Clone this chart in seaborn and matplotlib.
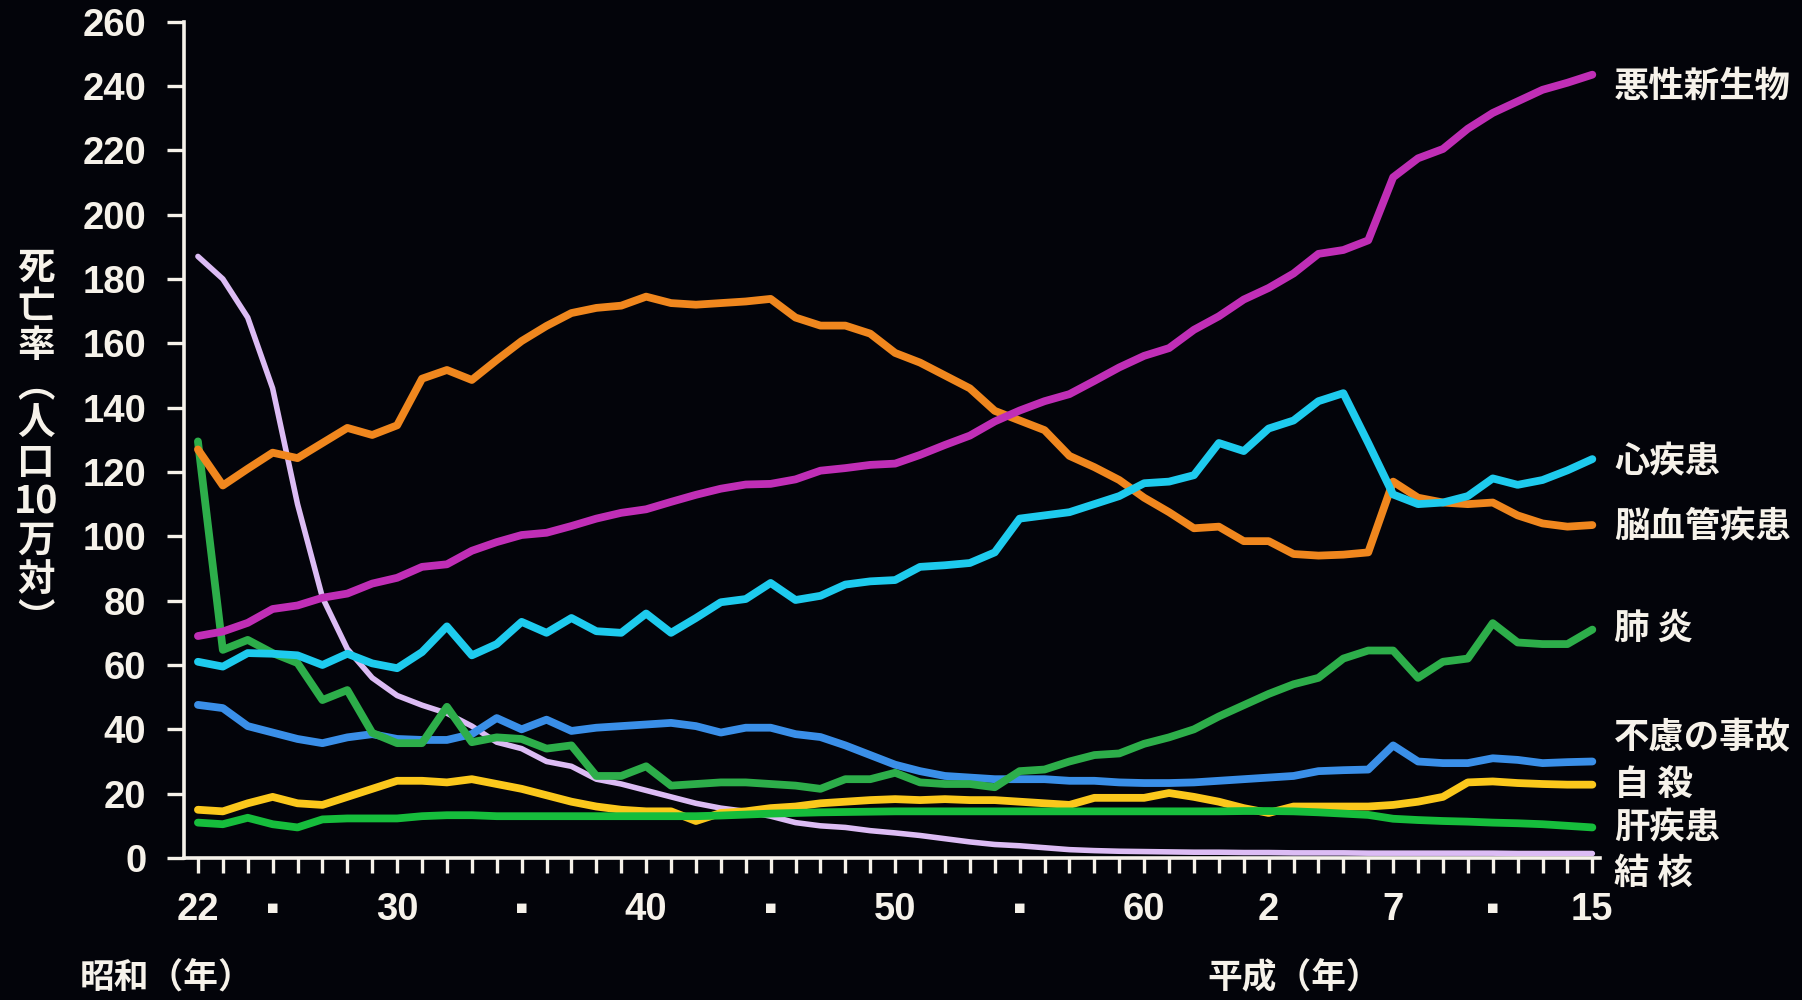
import numpy as np
import pandas as pd
import matplotlib
matplotlib.use("Agg")
import matplotlib.pyplot as plt
import seaborn as sns

# 年次 (昭和22年=1947 ～ 平成15年=2003)
years = list(range(1947, 2004))

# 死因別 死亡率 (人口10万対) - 図から読み取り
cancer = [69.0, 70.4, 73.1, 77.4, 78.5, 80.9, 82.2, 85.3, 87.1, 90.5,
          91.3, 95.5, 98.2, 100.4, 101.1, 103.2, 105.5, 107.3, 108.4, 110.7,
          112.9, 114.8, 116.1, 116.3, 117.7, 120.4, 121.2, 122.2, 122.6, 125.3,
          128.4, 131.3, 135.7, 139.1, 142.0, 144.2, 148.3, 152.5, 156.1, 158.5,
          164.2, 168.4, 173.6, 177.2, 181.7, 187.8, 189.0, 192.0, 211.6, 217.5,
          220.4, 226.7, 231.6, 235.2, 238.8, 241.0, 243.5]
cerebro = [127.0, 115.8, 121.0, 126.0, 124.3, 129.0, 133.7, 131.5, 134.5, 149.0,
           151.7, 148.6, 154.8, 160.7, 165.4, 169.4, 171.0, 171.7, 174.5, 172.5,
           172.0, 172.5, 173.0, 173.8, 168.0, 165.5, 165.5, 163.0, 157.0, 154.0,
           150.0, 146.0, 139.0, 136.0, 133.0, 125.0, 121.5, 117.5, 112.0, 107.5,
           102.5, 103.0, 98.5, 98.5, 94.5, 94.0, 94.3, 95.0, 117.0, 112.0,
           110.5, 110.0, 110.5, 106.5, 104.0, 103.0, 103.5]
heart = [61.0, 59.5, 63.7, 63.5, 63.0, 60.0, 63.5, 60.5, 59.0, 64.0,
         72.0, 63.0, 66.5, 73.4, 70.0, 74.6, 70.5, 70.0, 76.0, 70.0,
         74.6, 79.5, 80.5, 85.5, 80.2, 81.5, 85.0, 86.0, 86.4, 90.5,
         91.0, 91.7, 95.0, 105.5, 106.5, 107.5, 110.0, 112.5, 116.5, 117.0,
         119.0, 129.0, 126.5, 133.5, 136.0, 142.0, 144.5, 129.0, 113.0, 110.0,
         110.5, 112.5, 118.0, 116.0, 117.5, 120.5, 124.0]
pneumonia = [129.5, 64.7, 67.8, 63.7, 60.6, 49.1, 52.2, 38.9, 35.7, 35.7,
             47.0, 36.0, 37.5, 37.0, 34.0, 35.0, 25.5, 25.5, 28.5, 22.5,
             23.0, 23.5, 23.5, 23.0, 22.5, 21.5, 24.5, 24.5, 26.5, 23.5,
             23.0, 23.0, 22.0, 27.0, 27.5, 30.0, 32.0, 32.5, 35.5, 37.5,
             40.0, 44.0, 47.5, 51.0, 54.0, 56.0, 62.0, 64.5, 64.5, 56.0,
             61.0, 62.0, 73.0, 67.0, 66.5, 66.5, 71.0]
accident = [47.6, 46.6, 41.0, 39.0, 37.0, 35.7, 37.5, 38.5, 37.0, 36.7,
            36.7, 38.5, 43.5, 40.0, 43.0, 39.5, 40.5, 41.0, 41.5, 42.0,
            41.0, 39.0, 40.5, 40.5, 38.5, 37.6, 35.0, 32.0, 29.0, 27.0,
            25.5, 25.0, 24.5, 24.5, 24.5, 24.0, 24.0, 23.5, 23.3, 23.3,
            23.5, 24.0, 24.5, 25.0, 25.5, 27.0, 27.3, 27.5, 35.0, 30.0,
            29.5, 29.5, 31.0, 30.5, 29.5, 29.8, 30.0]
suicide = [15.0, 14.5, 17.0, 19.0, 17.0, 16.5, 19.0, 21.5, 24.0, 24.0,
           23.5, 24.5, 23.0, 21.5, 19.5, 17.5, 16.0, 15.0, 14.5, 14.5,
           11.5, 14.0, 14.5, 15.5, 16.0, 17.0, 17.5, 18.0, 18.3, 18.0,
           18.3, 18.0, 18.0, 17.5, 17.0, 16.5, 18.7, 18.7, 18.7, 20.2,
           19.0, 17.5, 15.5, 14.0, 16.0, 16.0, 16.0, 16.0, 16.5, 17.5,
           19.0, 23.5, 23.8, 23.3, 23.0, 22.8, 22.8]
liver = [11.0, 10.5, 12.5, 10.5, 9.5, 12.0, 12.3, 12.3, 12.3, 13.0,
         13.3, 13.3, 13.0, 13.0, 13.0, 13.0, 13.0, 13.0, 13.0, 13.0,
         13.0, 13.2, 13.5, 13.8, 14.0, 14.2, 14.3, 14.4, 14.5, 14.5,
         14.5, 14.5, 14.5, 14.5, 14.5, 14.5, 14.5, 14.5, 14.5, 14.5,
         14.5, 14.5, 14.6, 14.6, 14.5, 14.2, 13.8, 13.4, 12.2, 11.8,
         11.5, 11.3, 11.0, 10.8, 10.5, 10.0, 9.5]
tb = [187.0, 180.0, 168.0, 146.0, 110.0, 81.0, 65.0, 56.0, 50.5, 47.5,
      45.0, 41.0, 36.0, 34.0, 30.0, 28.5, 24.5, 23.0, 21.0, 19.0,
      17.0, 15.5, 14.5, 13.0, 11.0, 10.0, 9.5, 8.5, 7.8, 7.0,
      6.0, 5.0, 4.2, 3.8, 3.2, 2.6, 2.3, 2.1, 2.0, 1.9,
      1.8, 1.8, 1.7, 1.7, 1.6, 1.6, 1.6, 1.5, 1.5, 1.5,
      1.5, 1.5, 1.5, 1.4, 1.4, 1.4, 1.4]

# x軸の目盛ラベル
tick_years = [1947, 1950, 1955, 1960, 1965, 1970, 1975, 1980, 1985, 1990, 1995, 1999, 2003]
tick_labels = ["22", "▪", "30", "▪", "40", "▪", "50", "▪", "60", "2", "7", "▪", "15"]

# 右側の系列名と位置 (y)
label_names = ["悪性新生物", "心疾患", "脳血管疾患", "肺 炎", "不慮の事故", "自 殺", "肝疾患", "結 核"]
label_y = [240, 123, 103, 71.5, 37.6, 22.7, 9.3, -4.7]

# 描画順 (下から)
series = [
    ("結核", tb, "#dcbcf4", 4.0),
    ("自殺", suicide, "#fbc81c", 5.6),
    ("肝疾患", liver, "#16bd3c", 5.6),
    ("不慮の事故", accident, "#3a8fe8", 5.6),
    ("肺炎", pneumonia, "#2dae4a", 5.6),
    ("脳血管疾患", cerebro, "#f0871e", 5.6),
    ("心疾患", heart, "#1ecbee", 5.6),
    ("悪性新生物", cancer, "#c02eb6", 5.6),
]

bg = "#03040a"
fg = "#f6f2ea"

sns.set_theme(style="dark", rc={"axes.facecolor": bg, "figure.facecolor": bg})
plt.rcParams["font.family"] = ["Liberation Sans", "Noto Sans CJK JP", "DejaVu Sans"]
plt.rcParams["font.weight"] = "bold"
cjk = ["Noto Sans CJK JP", "DejaVu Sans"]

fig = plt.figure(figsize=(18.02, 10), dpi=100)
ax = fig.add_axes([0.1021, 0.142, 0.7857, 0.8364])

for name, vals, col, lw in series:
    df = pd.DataFrame({"year": years, "rate": vals})
    sns.lineplot(data=df, x="year", y="rate", color=col, linewidth=lw,
                 ax=ax, legend=False, solid_joinstyle="round")

ax.set_xlim(1946.44, 2003.3)
ax.set_ylim(0, 260)
ax.set_xlabel("")
ax.set_ylabel("")
ax.grid(False)

ax.set_yticks(range(0, 261, 20))
ax.set_xticks(years, minor=True)
ax.set_xticks(tick_years, labels=tick_labels)
ax.tick_params(axis="y", which="major", direction="out", length=12, width=2.4,
               color=fg, pad=15, labelsize=27.5, labelcolor=fg, left=True)
ax.tick_params(axis="x", which="both", direction="out", length=10.8, width=2.4,
               color=fg, bottom=True)
ax.tick_params(axis="x", which="major", pad=14, labelsize=27.5, labelcolor=fg)

for s in ["top", "right"]:
    ax.spines[s].set_visible(False)
for s in ["left", "bottom"]:
    ax.spines[s].set_visible(True)
    ax.spines[s].set_color(fg)
    ax.spines[s].set_linewidth(2.6)

# 系列名
for name, y in zip(label_names, label_y):
    ax.text(2003.87, y, name, color=fg, fontsize=25.5, fontweight="bold",
            family=cjk, ha="left", va="center", clip_on=False)

# 縦書きの軸ラベル
fig.text(0.02, 0.557, "死\n亡\n率\n︵\n人\n口\n10\n万\n対\n︶", color=fg,
         fontsize=27, fontweight="bold", family=cjk, ha="center", va="center",
         linespacing=1.0)

fig.text(0.044, 0.022, "昭和（年）", color=fg, fontsize=25, fontweight="bold",
         family=cjk, ha="left", va="center")
fig.text(0.670, 0.022, "平成（年）", color=fg, fontsize=25, fontweight="bold",
         family=cjk, ha="left", va="center")

fig.savefig("out.png", dpi=100, facecolor=bg)
